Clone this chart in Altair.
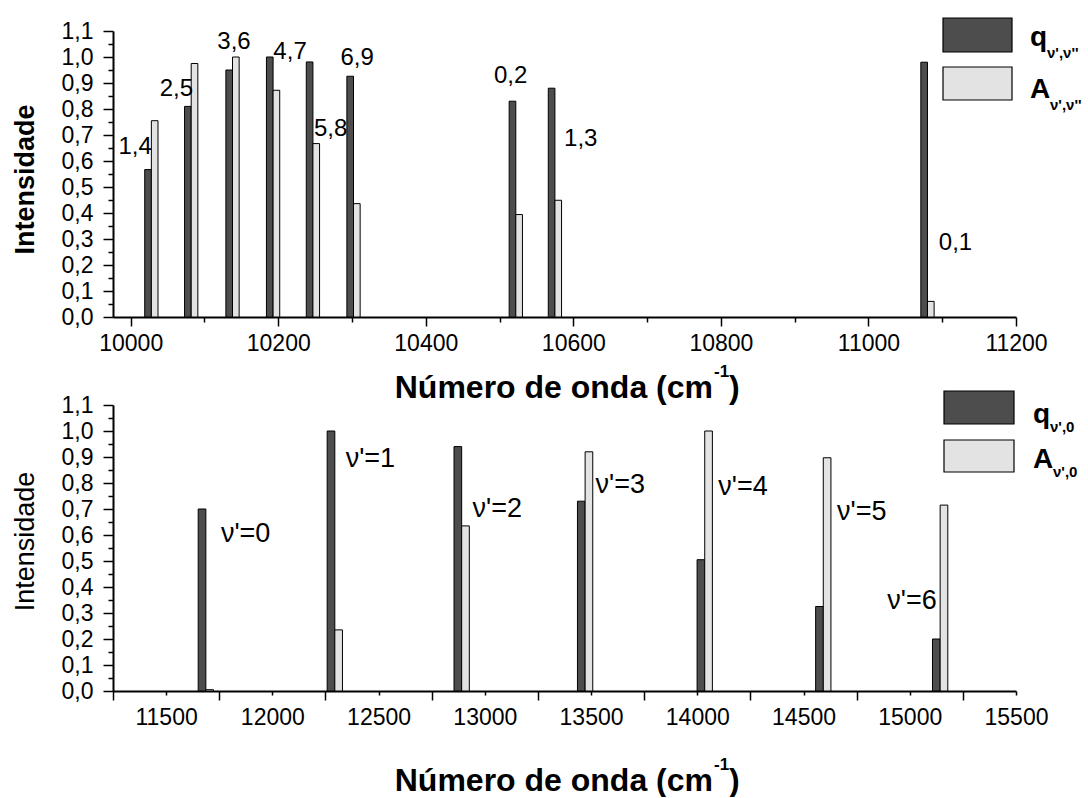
import altair as alt
import pandas as pd

FONT = "Liberation Sans"
DARK = "#4d4d4d"
LIGHT = "#e3e3e3"

# ---------------- data ----------------
# top panel: v',v'' pairs
top_wavenumber = [10028, 10082, 10138, 10193, 10247, 10302, 10522, 10575, 11080]
top_q = [0.567, 0.81, 0.95, 1.0, 0.981, 0.926, 0.83, 0.88, 0.98]
top_A = [0.755, 0.975, 1.0, 0.872, 0.667, 0.436, 0.394, 0.449, 0.06]
top_labels = ["1,4", "2,5", "3,6", "4,7", "5,8", "6,9", "0,2", "1,3", "0,1"]
top_label_x = [10006, 10062, 10140, 10216, 10271, 10307, 10515, 10610, 11118]
top_label_y = [0.653, 0.878, 1.058, 1.02, 0.724, 0.995, 0.926, 0.683, 0.283]

# bottom panel: v',0 progression
bot_wavenumber = [11687, 12294, 12891, 13472, 14035, 14593, 15143]
bot_q = [0.70, 1.0, 0.94, 0.73, 0.505, 0.325, 0.20]
bot_A = [0.005, 0.235, 0.635, 0.92, 1.0, 0.897, 0.715]
bot_labels = ["ν'=0", "ν'=1", "ν'=2", "ν'=3", "ν'=4", "ν'=5", "ν'=6"]
bot_label_x = [11758, 12345, 12942, 13521, 14099, 14658, 14894]
bot_label_y = [0.604, 0.892, 0.70, 0.792, 0.785, 0.69, 0.346]

y_values = [round(i * 0.05, 2) for i in range(23)]
top_x_values = list(range(10000, 11201, 100))
bot_x_values = list(range(11250, 15501, 250))

TOP_W = 9     # bar width in cm-1 (top)
BOT_W = 36    # bar width in cm-1 (bottom)


def bars_df(pos, q, a, w):
    rows = []
    for p, vq, va in zip(pos, q, a):
        rows.append({"x0": p - w, "x1": p, "value": vq, "series": "q"})
        rows.append({"x0": p, "x1": p + w, "value": va, "series": "A"})
    return pd.DataFrame(rows)


top_df = bars_df(top_wavenumber, top_q, top_A, TOP_W)
bot_df = bars_df(bot_wavenumber, bot_q, bot_A, BOT_W)
top_lab = pd.DataFrame({"lx": top_label_x, "ly": top_label_y, "label": top_labels})
bot_lab = pd.DataFrame({"lx": bot_label_x, "ly": bot_label_y, "label": bot_labels})

W, H = 903, 286

color = alt.Color("series:N", scale=alt.Scale(domain=["q", "A"], range=[DARK, LIGHT]), legend=None)
yscale = alt.Scale(domain=[0, 1.1], nice=False, zero=False)
top_xscale = alt.Scale(domain=[9976, 11200], nice=False, zero=False)
bot_xscale = alt.Scale(domain=[11250, 15500], nice=False, zero=False)

common_axis = dict(domainColor="black", domainWidth=2, tickColor="black", tickWidth=1.5,
                   labelColor="black", titleColor="black", grid=False, labelOverlap=False,
                   labelFont=FONT, labelFontSize=23, titleFont=FONT)


def y_axis(weight, ty):
    return alt.Axis(
        values=y_values,
        labelExpr="abs(datum.value*10 - round(datum.value*10)) < 0.01 ? replace(format(datum.value, '.1f'), '.', ',') : ''",
        tickSize={"condition": {"test": "abs(datum.value*10 - round(datum.value*10)) < 0.01", "value": 10}, "value": 5},
        labelPadding=10, labelFlush=False,
        title="Intensidade", titleFontSize=27, titleFontWeight=weight,
        titleX=-80, titleY=ty, titleAngle=270, titleBaseline="alphabetic", titleAlign="center",
        **common_axis)


top_xaxis = alt.Axis(
    values=top_x_values,
    labelExpr="datum.value % 200 === 0 ? format(datum.value, 'd') : ''",
    tickSize={"condition": {"test": "datum.value % 200 === 0", "value": 9}, "value": 5},
    labelPadding=6, labelBaseline="top", labelFlush=False, title=None,
    **common_axis)

bot_xaxis = alt.Axis(
    values=bot_x_values,
    labelExpr="datum.value % 500 === 0 ? format(datum.value, 'd') : ''",
    tickSize={"condition": {"test": "(datum.value - 11250) % 500 === 0", "value": 9}, "value": 4},
    labelPadding=11, labelBaseline="top", labelFlush=False, title=None,
    **common_axis)

top_yaxis = y_axis("bold", H / 2 + 5)
bot_yaxis = y_axis("normal", H / 2 - 7)


def one_row():
    return pd.DataFrame({"k": [0]})


def txt(text, x, y, size, align="left"):
    return alt.Chart(one_row()).mark_text(
        text=text, font=FONT, fontSize=size, fontWeight="bold", align=align,
        baseline="alphabetic", color="black").encode(x=alt.value(x), y=alt.value(y))


def x_title(base):
    # "Número de onda (cm" + superscript "-1" + ")"
    split = 600
    return [txt("Número de onda (cm", split, base, 32, "right"),
            txt("-1", split + 1, base - 21, 17),
            txt(")", split + 16, base, 32)]


def legend_layers(x0, x1, y_boxes, txt_x, q_base, a_base, sub, sub_off):
    layers = []
    for (ya, yb), fill in zip(y_boxes, [DARK, LIGHT]):
        layers.append(alt.Chart(one_row()).mark_rect(fill=fill, stroke="black", strokeWidth=1.2).encode(
            x=alt.value(x0), x2=alt.value(x1), y=alt.value(ya), y2=alt.value(yb)))
    for letter, base in [("q", q_base), ("A", a_base)]:
        layers.append(txt(letter, txt_x, base, 28))
        layers.append(txt(sub, txt_x + (17 if letter == "q" else 20), base + sub_off, 15))
    return layers


# ---------------- top panel ----------------
top_bars = alt.Chart(top_df).mark_bar(stroke="black", strokeWidth=1).encode(
    x=alt.X("x0:Q", scale=top_xscale, axis=top_xaxis),
    x2="x1:Q",
    y=alt.Y("value:Q", scale=yscale, axis=top_yaxis),
    y2=alt.datum(0),
    color=color,
)
top_text = alt.Chart(top_lab).mark_text(font=FONT, fontSize=24, align="center", baseline="middle",
                                         color="black").encode(
    x=alt.X("lx:Q", scale=top_xscale, axis=top_xaxis),
    y=alt.Y("ly:Q", scale=yscale, axis=top_yaxis),
    text="label:N")

top = alt.layer(top_bars, top_text,
                *legend_layers(830, 899, [(-13, 21), (36, 69)], 917, 15, 67, "ν',ν''", 12),
                *x_title(H + 81)
                ).properties(width=W, height=H)

# ---------------- bottom panel ----------------
bot_bars = alt.Chart(bot_df).mark_bar(stroke="black", strokeWidth=1).encode(
    x=alt.X("x0:Q", scale=bot_xscale, axis=bot_xaxis),
    x2="x1:Q",
    y=alt.Y("value:Q", scale=yscale, axis=bot_yaxis),
    y2=alt.datum(0),
    color=color,
)
bot_text = alt.Chart(bot_lab).mark_text(font=FONT, fontSize=27, align="left", baseline="middle",
                                         color="black").encode(
    x=alt.X("lx:Q", scale=bot_xscale, axis=bot_xaxis),
    y=alt.Y("ly:Q", scale=yscale, axis=bot_yaxis),
    text="label:N")

bottom = alt.layer(bot_bars, bot_text,
                   *legend_layers(831, 901, [(-14, 19), (35, 67)], 920, 18, 63, "ν',0", 9),
                   *x_title(H + 100)
                   ).properties(width=W, height=H)

chart = alt.vconcat(top, bottom, spacing=88, bounds="flush").configure_view(
    stroke=None
).configure_axis(labelOverlap=False).properties(
    padding={"left": 11, "top": 17, "right": 0, "bottom": 0},
    background="white",
)

chart.save("out.html", embed_options={"renderer": "svg", "actions": False})
